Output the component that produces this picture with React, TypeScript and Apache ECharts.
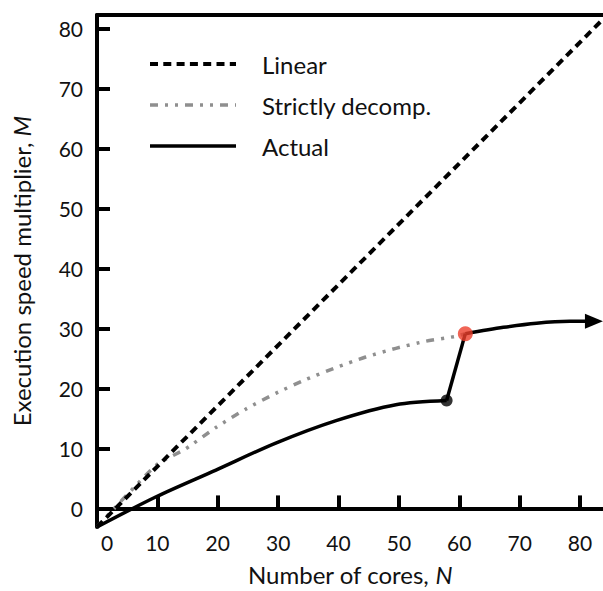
import React, { useEffect, useRef } from "react";
import * as echarts from "echarts";

// Tick values
const xTickLabels = [0, 10, 20, 30, 40, 50, 60, 70, 80];
const xTickMarks = [10, 20, 30, 40, 50, 60, 70, 80];
const yTickLabels = [0, 10, 20, 30, 40, 50, 60, 70, 80];
const yTickMarks = [10, 20, 30, 40, 50, 60, 70, 80];

// Linear speed-up
const linearN = [0, 83.8];
const linearM = [-3.1, 81.6];

// Strictly decomposable
const decompN = [0, 9.8, 14.7, 19.7, 24.7, 29.6, 34.6, 39.6, 44.5, 49.5, 54.5, 59.4, 61.0];
const decompM = [-3.1, 7.2, 9.95, 13.5, 16.6, 19.2, 21.5, 23.5, 25.25, 26.7, 27.9, 28.7, 29.15];

// Actual (three pieces)
const actualLowN = [0, 9.8, 19.7, 29.6, 39.6, 49.5, 57.9];
const actualLowM = [-3.1, 1.95, 6.4, 10.9, 14.65, 17.3, 18.0];
const jumpN = [57.9, 61.0];
const jumpM = [18.0, 29.15];
const actualHighN = [61.0, 67.3, 72.8, 78.3, 82.3];
const actualHighM = [29.15, 30.2, 30.9, 31.2, 31.2];

// Highlighted points
const blackDot = [57.9, 18.0];
const redDot = [61.0, 29.15];

const zip = (a: number[], b: number[]) => a.map((v, i) => [v, b[i]]);

const FONT = "Lato";
const LINEAR_STYLE = { color: "#000", width: 4, type: [8, 5.3] };
const DECOMP_STYLE = { color: "#8f8f8f", width: 3.5, type: [8, 7, 3, 7, 3, 7] };
const ACTUAL_STYLE = { color: "#000", width: 3.5 };

export default function App() {
  const ref = useRef<HTMLDivElement>(null);
  useEffect(() => {
    if (!ref.current) return;
    const chart = echarts.init(ref.current, undefined, { renderer: "svg" });
    const highData: any[] = zip(actualHighN, actualHighM).map((p, i, arr) =>
      i === arr.length - 1
        ? { value: p, symbol: "triangle", symbolSize: [15, 18], symbolRotate: -90 }
        : { value: p, symbol: "none" }
    );
    const axisLineStyle = { color: "#000", width: 4 };
    chart.setOption({
      animation: false,
      grid: { left: 97, right: 0, top: 15, bottom: 60.5, containLabel: false },
      legend: {
        orient: "vertical",
        left: 148,
        top: 52,
        padding: 0,
        itemWidth: 86,
        itemHeight: 20,
        itemGap: 17,
        selectedMode: false,
        data: [
          { name: "Linear", lineStyle: { ...LINEAR_STYLE } },
          { name: "Strictly decomp.", lineStyle: { ...DECOMP_STYLE } },
          { name: "Actual", lineStyle: { ...ACTUAL_STYLE } },
        ],
        itemStyle: { color: "rgba(0,0,0,0)", borderWidth: 0, opacity: 0 },
        textStyle: { fontFamily: FONT, fontSize: 24, color: "#111", padding: [0, 0, 0, 21] },
      },
      xAxis: [
        {
          type: "value",
          min: 0,
          max: 83.8,
          interval: 10,
          position: "bottom",
          splitLine: { show: false },
          axisLine: { show: true, lineStyle: axisLineStyle },
          axisTick: {
            show: true,
            inside: true,
            length: 13,
            customValues: xTickMarks,
            lineStyle: { color: "#000", width: 4 },
          },
          axisLabel: {
            customValues: xTickLabels,
            margin: 5,
            fontFamily: FONT,
            fontSize: 21,
            color: "#111",
            formatter: (v: number) => (v === 0 ? "{z|0}" : String(v)),
            rich: { z: { padding: [0, 0, 0, 20], fontFamily: FONT, fontSize: 21, color: "#111" } },
          },
          name: "Number of cores, {i|N}",
          nameLocation: "middle",
          nameGap: 35,
          nameTextStyle: {
            fontFamily: FONT,
            fontSize: 24,
            color: "#111",
            rich: { i: { fontFamily: FONT, fontSize: 24, fontStyle: "italic", color: "#111" } },
          },
        },
        {
          type: "value",
          min: 0,
          max: 83.8,
          position: "top",
          axisLine: { show: true, lineStyle: axisLineStyle },
          axisTick: { show: false },
          axisLabel: { show: false },
          splitLine: { show: false },
        },
      ],
      yAxis: {
        type: "value",
        min: -3.1,
        max: 82.3,
        interval: 10,
        splitLine: { show: false },
        axisLine: { show: true, lineStyle: axisLineStyle },
        axisTick: {
          show: true,
          inside: true,
          length: 13,
          customValues: yTickMarks,
          lineStyle: { color: "#000", width: 4 },
        },
        axisLabel: {
          customValues: yTickLabels,
          margin: 14,
          fontFamily: FONT,
          fontSize: 21,
          color: "#111",
        },
        name: "Execution speed multiplier, {i|M}",
        nameLocation: "middle",
        nameGap: 64,
        nameTextStyle: {
          fontFamily: FONT,
          fontSize: 24,
          color: "#111",
          rich: { i: { fontFamily: FONT, fontSize: 24, fontStyle: "italic", color: "#111" } },
        },
      },
      series: [
        {
          name: "Linear",
          type: "line",
          symbol: "none",
          data: zip(linearN, linearM),
          lineStyle: { ...LINEAR_STYLE },
          itemStyle: { color: "#000" },
          z: 3,
        },
        {
          name: "Strictly decomp.",
          type: "line",
          symbol: "none",
          smooth: 0.2,
          data: zip(decompN, decompM),
          lineStyle: { ...DECOMP_STYLE },
          itemStyle: { color: "#8f8f8f" },
          z: 2,
        },
        {
          name: "Actual",
          type: "line",
          symbol: "none",
          smooth: 0.3,
          data: zip(actualLowN, actualLowM),
          lineStyle: { ...ACTUAL_STYLE },
          itemStyle: { color: "#000" },
          z: 4,
        },
        {
          name: "Actual",
          type: "line",
          symbol: "none",
          data: zip(jumpN, jumpM),
          lineStyle: { ...ACTUAL_STYLE },
          itemStyle: { color: "#000" },
          z: 4,
        },
        {
          name: "Actual",
          type: "line",
          symbol: "none",
          smooth: 0.3,
          data: highData,
          lineStyle: { ...ACTUAL_STYLE },
          itemStyle: { color: "#000" },
          z: 4,
        },
        {
          name: "blackPoint",
          type: "scatter",
          data: [blackDot],
          symbol: "circle",
          symbolSize: 12,
          itemStyle: { color: "#000" },
          z: 6,
        },
        {
          name: "redPoint",
          type: "scatter",
          data: [redDot],
          symbol: "circle",
          symbolSize: 15,
          itemStyle: { color: "#ec3f2c" },
          z: 6,
        },
      ],
    });
    return () => chart.dispose();
  }, []);
  return (
    <div
      ref={ref}
      style={{ position: "fixed", left: 0, top: 0, width: 603, height: 591, background: "#fff" }}
    />
  );
}
